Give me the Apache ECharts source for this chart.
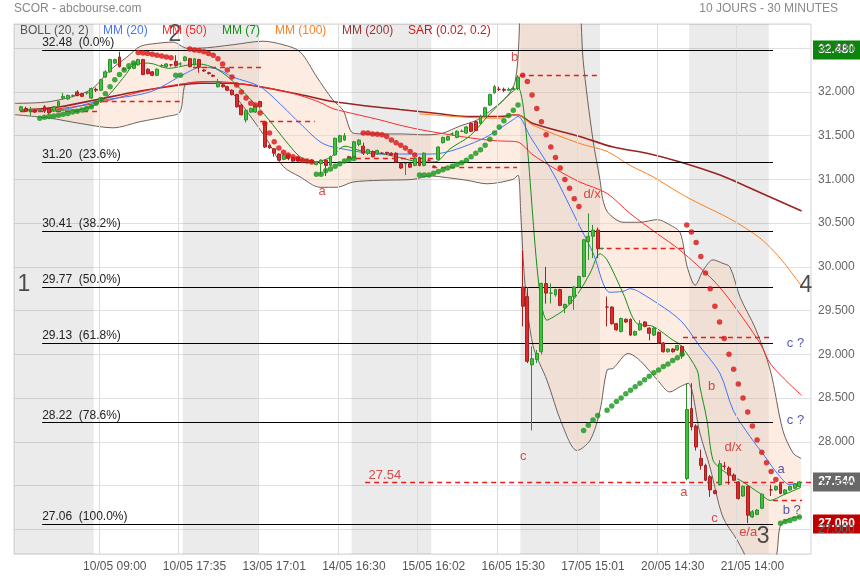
<!DOCTYPE html>
<html><head><meta charset="utf-8">
<script src="https://cdn.jsdelivr.net/npm/echarts@6/dist/echarts.min.js"></script>
<style>html,body{margin:0;padding:0;background:#fff}#chart{width:860px;height:580px}</style>
</head><body><div id="chart"></div>
<script>
// ---------- DATA ----------
const categoryCount = 170;
const xTickIdx = [21, 38, 55, 72, 89, 106, 123, 140, 157];
const xTickLabels = ['10/05 09:00','10/05 17:35','13/05 17:01','14/05 16:30','15/05 16:02','16/05 15:30','17/05 15:01','20/05 14:30','21/05 14:00'];
const vGridIdx = [17.6, 34.6, 51.6, 68.6, 85.6, 102.6, 119.6, 136.6, 153.6];
const dayBands = [[-0.5,16.5],[35.5,51.5],[71.5,88.5],[107.5,124.5],[143.5,160.5]];

// OHLC rows [open, close, low, high], bars 1..167 (null = no bar)
const ohlc = [
[31.79,31.83,31.78,31.84],[31.81,31.78,31.77,31.83],[31.79,31.79,31.73,31.83],[31.79,31.77,31.76,31.80],[31.79,31.79,31.77,31.81],
[31.83,31.78,31.76,31.85],[31.81,31.76,31.75,31.82],[31.78,31.83,31.77,31.84],[31.83,31.89,31.82,31.90],[31.93,31.95,31.91,31.99],
[31.92,31.96,31.91,31.97],[31.96,31.96,31.94,31.97],[32.00,31.96,31.95,32.02],[31.98,31.95,31.94,31.99],[31.99,31.99,31.97,32.00],
[31.93,32.04,31.92,32.05],[32.03,32.02,32.00,32.05],[32.02,32.14,32.01,32.15],[32.17,32.23,32.16,32.25],[32.23,32.37,32.22,32.38],
[32.33,32.37,32.32,32.38],[32.40,32.29,32.28,32.46],[32.27,32.26,32.24,32.28],[32.27,32.27,32.26,32.29],[32.27,32.33,32.26,32.34],
[32.31,32.37,32.30,32.38],[32.37,32.20,32.19,32.38],[32.26,32.21,32.20,32.27],[32.23,32.19,32.18,32.24],[32.19,32.26,32.18,32.27],
[32.30,32.30,32.28,32.32],[32.29,32.32,32.28,32.33],[32.31,32.31,32.29,32.32],[32.35,32.30,32.29,32.42],[32.32,32.32,32.30,32.34],
[32.36,32.40,32.35,32.41],[32.38,32.29,32.28,32.39],[32.31,32.38,32.30,32.39],[32.37,32.29,32.22,32.38],[32.25,32.24,32.23,32.26],
[32.22,32.21,32.20,32.23],[32.19,32.18,32.17,32.20],[32.06,32.11,32.05,32.15],[32.08,32.06,32.05,32.09],[32.06,32.02,32.01,32.07],
[32.02,31.97,31.96,32.03],[31.97,31.83,31.82,31.98],[31.85,31.74,31.73,31.86],[31.68,31.79,31.65,31.80],[31.77,31.81,31.76,31.82],
[31.77,31.85,31.76,31.86],[31.89,31.83,31.82,31.90],[31.65,31.37,31.36,31.66],[31.39,31.36,31.35,31.40],[31.35,31.30,31.26,31.36],
[31.29,31.22,31.21,31.30],[31.23,31.28,31.22,31.30],[31.28,31.24,31.22,31.29],[31.25,31.21,31.20,31.26],[31.25,31.21,31.20,31.26],
[31.22,31.22,31.21,31.23],[31.22,31.22,31.20,31.23],[31.22,31.20,31.19,31.23],[31.17,31.20,31.16,31.21],[31.18,31.22,31.06,31.23],
[31.22,31.16,31.04,31.23],[31.16,31.26,31.15,31.27],[31.28,31.47,31.27,31.48],[31.43,31.50,31.42,31.51],[31.45,31.50,31.44,31.53],
[31.26,31.25,31.24,31.27],[31.25,31.43,31.24,31.44],[31.40,31.45,31.38,31.46],[31.38,31.30,31.28,31.42],[31.30,31.34,31.28,31.35],
[31.32,31.26,31.25,31.33],[31.29,31.33,31.28,31.34],[31.30,31.30,31.29,31.31],[31.31,31.30,31.28,31.31],[31.30,31.28,31.27,31.31],
[31.30,31.20,31.19,31.31],[31.18,31.13,31.12,31.19],[31.18,31.18,31.05,31.19],[31.18,31.14,31.13,31.19],[31.16,31.24,31.15,31.25],
[31.25,31.16,31.15,31.26],[31.16,31.30,31.15,31.31],[31.22,31.22,31.21,31.23],[31.15,31.15,31.14,31.16],[31.23,31.37,31.22,31.38],
[31.42,31.48,31.41,31.49],[31.45,31.49,31.44,31.50],[31.52,31.52,31.50,31.54],[31.48,31.55,31.47,31.56],[31.55,31.55,31.54,31.57],
[31.53,31.60,31.52,31.61],[31.64,31.55,31.54,31.65],[31.66,31.56,31.55,31.67],[31.64,31.72,31.63,31.74],[31.72,31.82,31.71,31.83],
[31.85,31.97,31.84,31.98],[31.99,32.06,31.98,32.08],[32.03,32.03,32.01,32.06],[32.03,32.02,32.00,32.05],[32.02,32.03,32.01,32.05],
[32.03,32.04,32.02,32.06],[32.04,32.17,32.02,32.19],[29.77,29.55,29.32,30.19],[29.66,28.92,28.90,29.77],[28.88,28.95,28.13,29.09],
[28.94,29.01,28.90,29.05],[29.03,29.81,29.00,29.82],[29.81,29.70,29.58,30.00],[29.70,29.70,29.58,29.81],[29.68,29.74,29.66,29.75],
[29.74,29.56,29.55,29.75],[29.53,29.57,29.47,29.58],[29.58,29.66,29.57,29.67],[29.66,29.77,29.51,29.78],[29.77,29.89,29.76,29.90],
[29.89,30.31,29.88,30.32],[30.29,30.35,30.08,30.61],[30.35,30.42,30.10,30.48],[30.42,30.21,30.10,30.45],[30.21,30.21,30.20,30.22],
[29.54,29.54,29.32,29.66],[29.54,29.35,29.34,29.55],[29.35,29.28,29.27,29.36],[29.26,29.41,29.25,29.42],[29.40,29.37,29.36,29.41],
[29.40,29.22,29.21,29.41],[29.22,29.26,29.21,29.27],[29.28,29.35,29.27,29.39],[29.37,29.32,29.31,29.38],[29.30,29.24,29.16,29.31],
[29.22,29.30,29.21,29.31],[29.25,29.13,29.12,29.26],[29.13,29.03,29.02,29.14],[29.03,29.06,29.02,29.07],[29.06,29.03,29.02,29.07],
[29.05,29.10,29.04,29.11],[29.09,28.99,28.95,29.10],[27.58,28.37,27.56,28.67],[28.38,28.17,28.13,28.67],[28.18,27.94,27.90,28.20],
[27.81,27.73,27.68,27.91],[27.73,27.56,27.55,27.75],[27.60,27.45,27.37,27.62],[27.44,27.41,27.40,27.45],[27.51,27.75,27.50,27.79],
[27.72,27.72,27.68,27.77],[27.70,27.62,27.51,27.72],[27.62,27.56,27.55,27.64],[27.54,27.35,27.34,27.55],[27.38,27.49,27.37,27.50],
[27.49,27.16,27.07,27.50],[27.14,27.20,27.13,27.22],[27.17,27.22,27.16,27.23],[27.24,27.40,27.23,27.41],null,
[27.45,27.45,27.38,27.51],[27.45,27.49,27.44,27.50],[27.52,27.41,27.40,27.53],[27.41,27.45,27.40,27.46],[27.45,27.49,27.44,27.50],
[27.47,27.52,27.46,27.53],[27.49,27.54,27.48,27.55]
];
const firstBarIdx = 1;

// Indicator curves as [bar index, price]
const mm200 = [[0.8,31.79],[9.3,31.83],[17.8,31.92],[26.4,32.01],[34.9,32.08],[39.2,32.10],[45.6,32.10],[52,32.06],[60.5,31.97],[67.5,31.89],[74.8,31.84],[81.8,31.80],[88.9,31.76],[96.1,31.72],[103.2,31.72],[106.8,31.74],[110.2,31.64],[120.2,31.49],[127.3,31.37],[134.5,31.30],[141.6,31.20],[150.1,31.05],[158.6,30.85],[167.5,30.64]];
const mm100 = [[86,31.75],[96.1,31.71],[103.2,31.70],[106.8,31.74],[110.2,31.62],[120.2,31.41],[126,31.32],[130.9,31.16],[135.8,31.03],[141.6,30.84],[145.8,30.72],[152.2,30.55],[158.6,30.33],[162.9,30.10],[167.5,29.78]];
const mm50 = [[0.8,31.78],[9.3,31.81],[17.8,31.88],[26.4,32.0],[34.9,32.09],[42.4,32.12],[49.8,32.08],[56.2,32.02],[60.5,31.96],[64.8,31.88],[67.5,31.81],[71.2,31.76],[77.6,31.68],[81.8,31.62],[86.1,31.57],[92.5,31.51],[98.9,31.46],[103.2,31.44],[106.8,31.43],[110.2,31.28],[115.3,31.11],[120.2,30.97],[126,30.84],[130.9,30.61],[136.7,30.38],[141.6,30.19],[148.6,29.85],[152.2,29.62],[158.6,29.13],[161,28.88],[167.5,28.53]];
const mm20 = [[0.8,31.80],[9.3,31.80],[17.8,31.90],[28.5,32.0],[36,32.21],[39.2,32.28],[42.4,32.27],[46.2,32.17],[52,32.06],[56.9,31.83],[60.5,31.64],[65.4,31.41],[70.5,31.34],[77.6,31.29],[88.7,31.29],[98.9,31.45],[105.9,31.68],[107,31.72],[109.6,31.49],[114.5,31.07],[120.2,30.46],[123,30.16],[126.6,29.71],[129.4,29.72],[130.9,29.75],[134.5,29.66],[141.6,29.39],[145.8,29.09],[150.1,28.78],[152.9,28.36],[156.5,28.06],[159.7,27.83],[162.3,27.64],[165,27.51],[167.4,27.53]];
const mm7 = [[7.2,31.79],[13.6,31.80],[17.8,31.88],[20,31.98],[23.5,32.21],[25,32.31],[28.2,32.33],[32.5,32.27],[36.8,32.31],[39,32.32],[42.4,32.27],[45.4,32.16],[48.8,31.98],[51.8,31.81],[53.9,31.68],[57.3,31.45],[60.5,31.26],[63.7,31.20],[66.9,31.25],[70.1,31.38],[73.3,31.33],[76.5,31.31],[81.8,31.25],[86.1,31.20],[89.3,31.20],[92.5,31.35],[96.8,31.5],[101,31.75],[105.3,31.98],[107,32.05],[113.2,29.39],[116.6,29.50],[119.6,29.68],[122.4,29.93],[124.5,30.15],[126,30.08],[129.4,29.70],[132.4,29.35],[135.8,29.32],[140.1,29.16],[141.6,29.11],[145.2,28.82],[145.8,28.63],[147.3,28.25],[148.6,27.79],[150.5,27.68],[152.2,27.62],[154.4,27.56],[158.6,27.41],[160.8,27.33],[163.5,27.39],[167.4,27.48]];
const bollUpper = [[-0.3,31.87],[7.2,31.89],[15.7,32.02],[20,32.25],[23.6,32.40],[26.4,32.52],[29.1,32.55],[33.4,32.57],[36.4,32.50],[38.7,32.50],[46.2,32.54],[52.6,32.58],[56.9,32.54],[60.5,32.46],[64.1,32.17],[67.5,31.91],[69.7,31.79],[71.8,31.53],[74.8,31.52],[81.8,31.52],[87.6,31.51],[91,31.53],[94.6,31.61],[98.3,31.68],[101.7,31.81],[104.7,31.95],[106.4,32.12],[107.2,32.59],[108,34.0],[118,34.5],[120.3,33.0],[120.9,32.36],[123,31.45],[124.5,30.99],[125.1,30.77],[126.2,30.62],[129.4,30.51],[133,30.51],[136.7,30.54],[139.4,30.48],[141.6,30.39],[143.1,30.0],[144.8,29.79],[146.5,29.96],[148.6,30.08],[150.7,30.04],[152.2,30.0],[154.4,29.65],[157.6,29.3],[160.8,28.82],[163.5,28.13],[165.7,27.87],[167.4,27.81]];
const bollLower = [[-0.3,31.74],[7.2,31.70],[13.6,31.64],[20.6,31.59],[26.4,31.66],[32.1,31.72],[34.9,31.77],[36.4,32.10],[42.8,32.12],[46.2,31.98],[50.5,31.68],[53.5,31.45],[56.9,31.15],[60.5,31.03],[64.8,30.91],[68.4,30.91],[71.8,30.97],[77.6,30.99],[84.6,31.0],[88.2,31.04],[91.9,31.02],[96.1,30.99],[100.4,30.95],[105.9,31.0],[107,31.05],[107.6,30.6],[108.5,29.8],[110.2,29.1],[113.2,28.7],[116.4,28.2],[119.6,27.9],[122.4,28.02],[124.5,28.36],[126,28.82],[127.3,28.84],[130.5,29.01],[133,28.93],[136.7,28.71],[139.4,28.57],[141.6,28.63],[143.3,28.67],[145.8,28.1],[148,27.7],[150.7,27.14],[153.7,26.88],[156.5,26.6],[159,26.4],[161.5,26.55],[162.3,26.75],[162.9,27.03],[164.4,27.11],[166.5,27.14],[167.4,27.14]];

// Parabolic SAR dots [bar index, price]
const sarUp = [[5,31.70],[6,31.71],[7,31.72],[8,31.725],[9,31.735],[10,31.745],[11,31.755],[12,31.77],[13,31.78],[14,31.795],[15,31.81],[16,31.83],[17,31.87],[18,31.915],[19,31.98],[20,32.06],[21,32.14],[22,32.20],[23,32.25],[24,32.30],[25,32.33],
[34,32.19],[35,32.19],
[64,31.06],[65,31.06],[66,31.10],[67,31.12],[68,31.15],[69,31.18],[70,31.21],[71,31.23],[72,31.24],
[86,31.05],[87,31.05],[88,31.05],[89,31.07],[90,31.09],[91,31.11],[92,31.13],[93,31.15],[94,31.17],[95,31.19],[96,31.22],[97,31.26],[98,31.30],[99,31.34],[100,31.39],[101,31.46],[102,31.53],[103,31.60],[104,31.67],[105,31.73],[106,31.79],[107,31.85],
[121,28.13],[122,28.19],[123,28.25],[124,28.30],[126,28.36],[127,28.41],[128,28.46],[129,28.50],[130,28.55],[131,28.59],[132,28.63],[133,28.67],[134,28.71],[135,28.75],[136,28.79],[137,28.82],[138,28.86],[139,28.89],[140,28.93],[141,28.96],[142,29.00],
[163,27.07],[164,27.09],[165,27.10],[166,27.12],[167,27.14]];
const sarDown = [[26,32.45],[27,32.445],[28,32.44],[29,32.43],[30,32.42],[31,32.41],[32,32.40],[33,32.39],
[37,32.49],[38,32.48],[39,32.475],[40,32.46],[41,32.44],[42,32.42],[43,32.38],[44,32.32],[45,32.25],[46,32.17],[47,32.08],[48,32.0],[49,31.93],[50,31.87],[51,31.85],[52,31.76],[53,31.64],[54,31.53],[55,31.43],[56,31.36],[57,31.31],[58,31.28],[59,31.26],[60,31.24],[61,31.22],[62,31.21],[63,31.20],
[74,31.53],[75,31.53],[76,31.52],[77,31.515],[78,31.51],[79,31.49],[80,31.45],[81,31.42],[82,31.39],[83,31.36],[84,31.32],[85,31.28],
[108,32.19],[109,32.12],[110,31.965],[111,31.81],[112,31.66],[113,31.51],[114,31.37],[115,31.25],[116,31.13],[117,31.0],[118,30.90],[119,30.78],[120,30.69],
[143,30.48],[144,30.40],[145,30.28],[146,30.12],[147,29.93],[148,29.75],[149,29.55],[150,29.37],[151,29.18],[152,29.0],[153,28.83],[154,28.66],[155,28.50],[156,28.34],[157,28.18],[158,28.02],[159,27.88],[160,27.76],[161,27.66],[162,27.57]];

// Fibonacci retracement levels
const fibValues = [32.48, 31.20, 30.41, 29.77, 29.13, 28.22, 27.06];
const fibPercents = ['0.0%','23.6%','38.2%','50.0%','61.8%','78.6%','100.0%'];
const fibSpan = [5.5, 161.4];

// Red dashed levels [from bar, to bar, price]
const dashedLevels = [[0.8,17.2,31.78],[16.5,34.9,31.89],[37.7,52.6,32.28],[52,63.7,31.66],[70.5,89.7,31.24],[88.7,106.8,31.14],[107.4,124.5,32.19],[124,142.6,30.21],[142.2,160.8,29.20],[74.4,169.5,27.54],[161.4,167.6,27.335]];

// Annotations [text, bar index, price, kind]
const notes = [
 ['a',65.2,30.86,'r'],['b',106.3,32.39,'r'],['c',108.1,27.83,'r'],['d/x',122.8,30.83,'r'],
 ['b',148.3,28.63,'r'],['d/x',152.9,27.94,'r'],['a',142.4,27.42,'r'],['c',148.9,27.12,'r'],['e/a',156.1,26.96,'r'],
 ['a',163.1,27.68,'b'],['b ?',165.4,27.21,'b'],['c ?',166.2,29.12,'b'],['c ?',166.2,28.25,'b'],
 ['27.54',78.6,27.61,'r'],
 ['1',1.6,29.80,'n'],['2',33.8,32.66,'n'],['3',159.3,26.91,'n'],['4',168.4,29.79,'n']
];
const priceTags = [32.48, 27.54, 27.06];
const yMin = 26.717, yMax = 32.777;

// ---------- CHART ----------
const FONT = 'Liberation Sans, Arial, sans-serif';
const chart = echarts.init(document.getElementById('chart'), null, {renderer:'canvas'});
const categories = Array.from({length: categoryCount}, (_, i) => String(i));
const candleData = categories.map((c, i) => {
  const r = ohlc[i - firstBarIdx];
  return r ? r : '-';
});
const tickMap = {};
xTickIdx.forEach((k, j) => tickMap[k] = xTickLabels[j]);

function lineSeries(name, data, color, width) {
  return {name, type:'line', xAxisIndex:1, yAxisIndex:0, data, showSymbol:false, symbol:'none', smooth:0.3,
    lineStyle:{color, width}, silent:true, z:4, animation:false};
}
const colors = {red:'#cc2222', blue:'#2a2aa8', num:'#222'};
const dashStyle = {color:'#e81e1e', width:1.3, type:[5,4]};
const fibStyle = {color:'#000', width:1.2, type:'solid'};

const option = {
  animation:false,
  backgroundColor:'#fff',
  grid:{left:14, right:49, top:24, bottom:26, show:true, borderColor:'#d4d4d4', borderWidth:1, backgroundColor:'#fff'},
  xAxis:[
    {type:'category', data:categories, boundaryGap:true, axisLine:{show:false}, axisTick:{show:false}, splitLine:{show:false},
     axisLabel:{interval:(i)=> tickMap[i] !== undefined, formatter:(v,i)=> tickMap[i] || '', color:'#555', fontSize:12, fontFamily:FONT, margin:7}},
    {type:'value', min:-0.5, max:categoryCount-0.5, show:false, splitLine:{show:false}}
  ],
  yAxis:[{type:'value', position:'right', min:yMin, max:yMax, splitNumber:12, scale:true,
    axisLine:{show:false}, axisTick:{show:false},
    splitLine:{lineStyle:{color:'#e0e0e0', width:1}},
    axisLabel:{showMinLabel:false, showMaxLabel:false, formatter:(v)=>v.toFixed(3), color:'#666', fontSize:12, fontFamily:FONT, margin:7}}],
  series:[
    {type:'custom', xAxisIndex:1, yAxisIndex:0, clip:true, silent:true, z:1, data:[[0, 30]],
     renderItem:(params, api) => {
       const pts = bollUpper.map(p=>api.coord(p)).concat(bollLower.slice().reverse().map(p=>api.coord(p)));
       return {type:'polygon', shape:{points:pts}, style:{fill:'rgba(250,205,178,0.38)'}};
     }},
    {type:'line', xAxisIndex:1, yAxisIndex:0, data:[], z:2, silent:true,
     markArea:{silent:true, itemStyle:{color:'rgba(0,0,0,0.078)'}, data: dayBands.map(b=>[{xAxis:b[0]},{xAxis:b[1]}])},
     markLine:{silent:true, symbol:['none','none'], label:{show:false}, lineStyle:{color:'#dcdcdc', type:'solid', width:1},
       data: vGridIdx.map(k=>({xAxis:k}))}},
    lineSeries('bollU', bollUpper, '#6e605a', 1),
    lineSeries('bollL', bollLower, '#6e605a', 1),
    lineSeries('MM200', mm200, '#9a2222', 1.6),
    lineSeries('MM100', mm100, '#ff7f1e', 1),
    lineSeries('MM50', mm50, '#ff2a2a', 1),
    lineSeries('MM20', mm20, '#3f74ff', 1),
    lineSeries('MM7', mm7, '#168f16', 1),
    {type:'candlestick', xAxisIndex:0, yAxisIndex:0, data:candleData, barWidth:3.4, z:5, silent:true,
     itemStyle:{color:'#3cc43c', color0:'#dd2a2a', borderColor:'#2f8f2f', borderColor0:'#a82020', borderWidth:1}},
    {type:'scatter', xAxisIndex:1, yAxisIndex:0, data:sarUp, symbolSize:5.5, itemStyle:{color:'#14961a'}, z:6, silent:true},
    {type:'scatter', xAxisIndex:1, yAxisIndex:0, data:sarDown, symbolSize:5.5, itemStyle:{color:'#d81414'}, z:6, silent:true},
    // dashed levels (separate series so that the red style is kept)
    {type:'line', xAxisIndex:1, yAxisIndex:0, data:[], z:7, silent:true,
     markLine:{silent:true, symbol:['none','none'], animation:false, lineStyle:dashStyle, label:{show:false},
       data: dashedLevels.map(d=>[{coord:[d[0], d[2]]},{coord:[d[1], d[2]]}])}},
    // Fibonacci
    {type:'line', xAxisIndex:1, yAxisIndex:0, data:[], z:7, silent:true,
     markLine:{silent:true, symbol:['none','none'], animation:false, lineStyle:fibStyle,
       label:{show:true, position:'insideStartTop', color:'#222', fontSize:12, fontFamily:FONT, distance:[0,1]},
       data: fibValues.map((v,i)=>[
         {coord:[fibSpan[0], v], label:{formatter: v.toFixed(2)+'  ('+fibPercents[i]+')'}},
         {coord:[fibSpan[1], v]}
       ])}},
    {type:'scatter', xAxisIndex:1, yAxisIndex:0, z:8, silent:true, symbolSize:0,
     data: notes.map(n=>({value:[n[1], n[2]], label:{show:true, position:'inside', formatter:n[0],
        color: n[3]==='r' ? colors.red : (n[3]==='b' ? colors.blue : colors.num),
        fontSize: n[3]==='n' ? 23 : 13, fontFamily:FONT}}))}
  ]
};
chart.setOption(option);

const legendItems = [['BOLL (20, 2)','#555',20],['MM (20)','#3f74ff',103],['MM (50)','#ff2a2a',162],['MM (7)','#168f16',222],['MM (100)','#ff7f1e',275],['MM (200)','#9a3333',342],['SAR (0.02, 0.2)','#d01818',408]];
const graphics = [
  {type:'text', left:14, top:3, style:{text:'SCOR - abcbourse.com', fill:'#888', font:'12px '+FONT}, z:20},
  {type:'text', right:22, top:3, style:{text:'10 JOURS - 30 MINUTES', fill:'#888', font:'12px '+FONT}, z:20}
];
legendItems.forEach(l => graphics.push({type:'text', left:l[2], top:25, style:{text:l[0], fill:l[1], font:'12px '+FONT}, z:20}));
const tagColors = ['#0d850d', '#686868', '#c00000'];
priceTags.forEach((v, i) => {
  const y = chart.convertToPixel({yAxisIndex:0}, v);
  graphics.push({type:'group', x:813, y:y-9.5, z:30, children:[
    {type:'rect', shape:{x:0, y:0, width:47, height:19}, style:{fill:tagColors[i]}},
    {type:'text', x:23.5, y:9.5, style:{text:v.toFixed(3), fill:'#fff', font:'bold 12px '+FONT, textAlign:'center', textVerticalAlign:'middle'}}
  ]});
});
chart.setOption({graphic: graphics});
</script>
</body></html>
